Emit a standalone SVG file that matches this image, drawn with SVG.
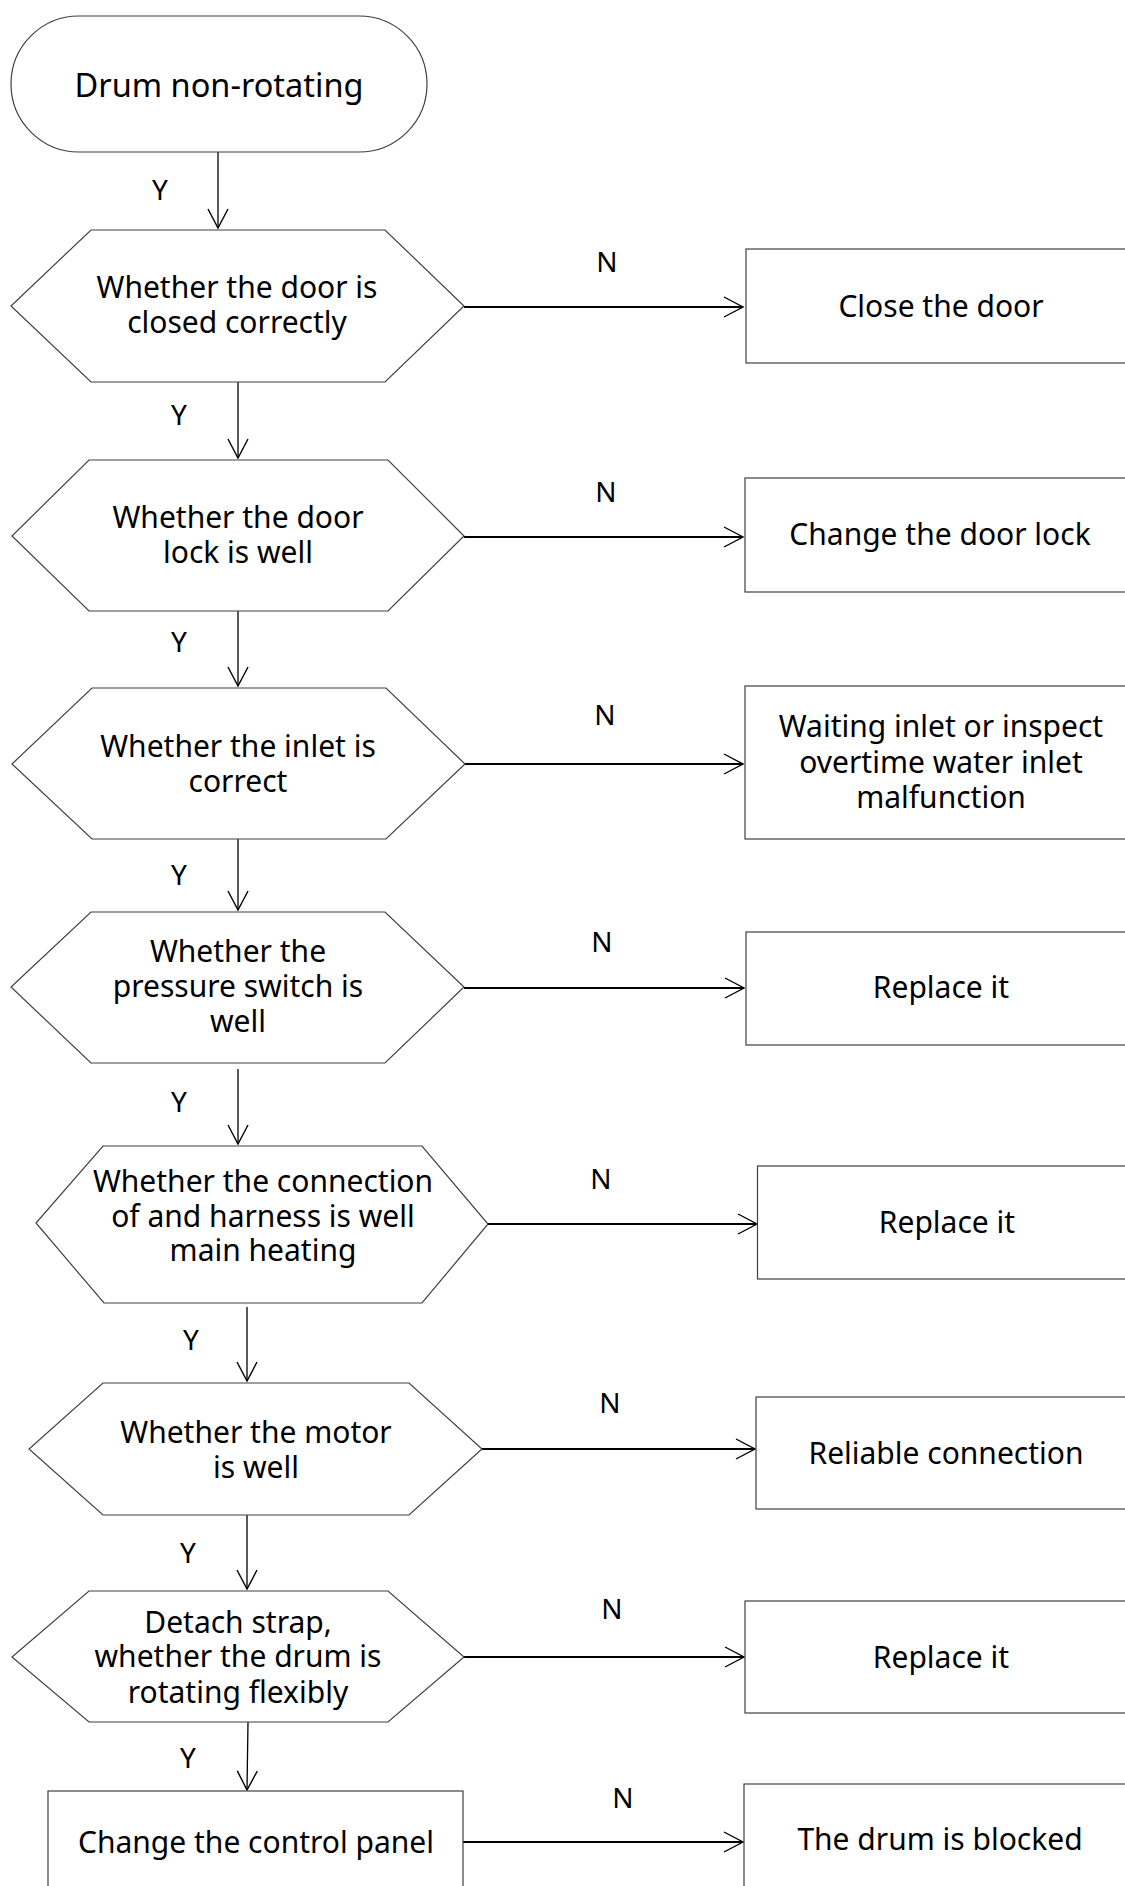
<svg xmlns="http://www.w3.org/2000/svg" width="1125" height="1886" viewBox="0 0 1125 1886">
<style>
.shape{fill:#fff;stroke:#404040;stroke-width:1.2}
.t{font-family:"Noto Sans","Open Sans","DejaVu Sans",sans-serif;font-size:30px;fill:#000;text-anchor:middle}
.lbl{font-family:"Noto Sans","Open Sans","DejaVu Sans",sans-serif;font-size:28px;fill:#000;text-anchor:middle}
.y{fill:none;stroke:#000;stroke-width:1.3}
.n{fill:none;stroke:#000;stroke-width:1.8}
</style>
<defs>
<marker id="ah" viewBox="0 0 22 22" refX="20" refY="11" markerWidth="22" markerHeight="22" markerUnits="userSpaceOnUse" orient="auto">
<path d="M1,1 L20,11 L1,21" fill="none" stroke="#000" stroke-width="1.4"/>
</marker>
</defs>
<rect width="1125" height="1886" fill="#fff"/>
<g id="connectors">
<line class="y" x1="218" y1="152" x2="218" y2="228" marker-end="url(#ah)"/>
<text class="lbl" x="160" y="200">Y</text>
<line class="y" x1="238" y1="382" x2="238" y2="458" marker-end="url(#ah)"/>
<text class="lbl" x="179" y="425">Y</text>
<line class="y" x1="238" y1="611" x2="238" y2="686" marker-end="url(#ah)"/>
<text class="lbl" x="179" y="652">Y</text>
<line class="y" x1="238" y1="839" x2="238" y2="910" marker-end="url(#ah)"/>
<text class="lbl" x="179" y="885">Y</text>
<line class="y" x1="238" y1="1069" x2="238" y2="1144" marker-end="url(#ah)"/>
<text class="lbl" x="179" y="1112">Y</text>
<line class="y" x1="247" y1="1307" x2="247" y2="1381" marker-end="url(#ah)"/>
<text class="lbl" x="191" y="1350">Y</text>
<line class="y" x1="247" y1="1515" x2="247" y2="1589" marker-end="url(#ah)"/>
<text class="lbl" x="188" y="1563">Y</text>
<line class="y" x1="248" y1="1722" x2="247" y2="1790" marker-end="url(#ah)"/>
<text class="lbl" x="188" y="1768">Y</text>

<line class="n" x1="464" y1="307" x2="743" y2="307" marker-end="url(#ah)"/>
<text class="lbl" x="607" y="272">N</text>
<line class="n" x1="464" y1="537" x2="743" y2="537" marker-end="url(#ah)"/>
<text class="lbl" x="606" y="502">N</text>
<line class="n" x1="465" y1="764" x2="743" y2="764" marker-end="url(#ah)"/>
<text class="lbl" x="605" y="725">N</text>
<line class="n" x1="464" y1="988" x2="744" y2="988" marker-end="url(#ah)"/>
<text class="lbl" x="602" y="952">N</text>
<line class="n" x1="488" y1="1224" x2="757" y2="1224" marker-end="url(#ah)"/>
<text class="lbl" x="601" y="1189">N</text>
<line class="n" x1="482" y1="1449" x2="755" y2="1449" marker-end="url(#ah)"/>
<text class="lbl" x="610" y="1413">N</text>
<line class="n" x1="464" y1="1657" x2="744" y2="1657" marker-end="url(#ah)"/>
<text class="lbl" x="612" y="1619">N</text>
<line class="n" x1="463" y1="1842" x2="743" y2="1842" marker-end="url(#ah)"/>
<text class="lbl" x="623" y="1808">N</text>
</g>

<g id="start">
<rect class="shape" x="11" y="16" width="416" height="136" rx="68" ry="68"/>
<text class="t" x="219" y="97" style="font-size:32.5px">Drum non-rotating</text>
</g>

<g id="d1">
<polygon class="shape" points="91,230 385,230 464,306 385,382 91,382 11,306"/>
<text class="t" x="237" y="298">Whether the door is</text>
<text class="t" x="237" y="333">closed correctly</text>
</g>
<g id="r1">
<rect class="shape" x="746" y="249" width="400" height="114"/>
<text class="t" x="941" y="317">Close the door</text>
</g>

<g id="d2">
<polygon class="shape" points="89,460 388,460 464,536 388,611 89,611 12,536"/>
<text class="t" x="238" y="528">Whether the door</text>
<text class="t" x="238" y="563">lock is well</text>
</g>
<g id="r2">
<rect class="shape" x="745" y="478" width="400" height="114"/>
<text class="t" x="940" y="545">Change the door lock</text>
</g>

<g id="d3">
<polygon class="shape" points="92,688 386,688 465,764 386,839 92,839 12,764"/>
<text class="t" x="238" y="757">Whether the inlet is</text>
<text class="t" x="238" y="792">correct</text>
</g>
<g id="r3">
<rect class="shape" x="745" y="686" width="400" height="153"/>
<text class="t" x="941" y="737">Waiting inlet or inspect</text>
<text class="t" x="941" y="773">overtime water inlet</text>
<text class="t" x="941" y="808">malfunction</text>
</g>

<g id="d4">
<polygon class="shape" points="91,912 385,912 464,987 385,1063 91,1063 11,987"/>
<text class="t" x="238" y="962">Whether the</text>
<text class="t" x="238" y="997">pressure switch is</text>
<text class="t" x="238" y="1032">well</text>
</g>
<g id="r4">
<rect class="shape" x="746" y="932" width="400" height="113"/>
<text class="t" x="941" y="998">Replace it</text>
</g>

<g id="d5">
<polygon class="shape" points="103,1146 422,1146 488,1224 422,1303 104,1303 36,1223"/>
<text class="t" x="263" y="1192">Whether the connection</text>
<text class="t" x="263" y="1227">of and harness is well</text>
<text class="t" x="263" y="1261">main heating</text>
</g>
<g id="r5">
<rect class="shape" x="757.5" y="1166" width="400" height="113"/>
<text class="t" x="947" y="1233">Replace it</text>
</g>

<g id="d6">
<polygon class="shape" points="103,1383 409,1383 482,1449 409,1515 103,1515 29,1449"/>
<text class="t" x="256" y="1443">Whether the motor</text>
<text class="t" x="256" y="1478">is well</text>
</g>
<g id="r6">
<rect class="shape" x="756" y="1397" width="400" height="112"/>
<text class="t" x="946" y="1464">Reliable connection</text>
</g>

<g id="d7">
<polygon class="shape" points="89,1591 388,1591 464,1657 388,1722 89,1722 12,1657"/>
<text class="t" x="238" y="1633">Detach strap,</text>
<text class="t" x="238" y="1667">whether the drum is</text>
<text class="t" x="238" y="1703">rotating flexibly</text>
</g>
<g id="r7">
<rect class="shape" x="745" y="1601" width="400" height="112"/>
<text class="t" x="941" y="1668">Replace it</text>
</g>

<g id="r8">
<rect class="shape" x="48" y="1791" width="415" height="120"/>
<text class="t" x="256" y="1853">Change the control panel</text>
</g>
<g id="r9">
<rect class="shape" x="744" y="1784" width="400" height="120"/>
<text class="t" x="940" y="1850">The drum is blocked</text>
</g>
</svg>
